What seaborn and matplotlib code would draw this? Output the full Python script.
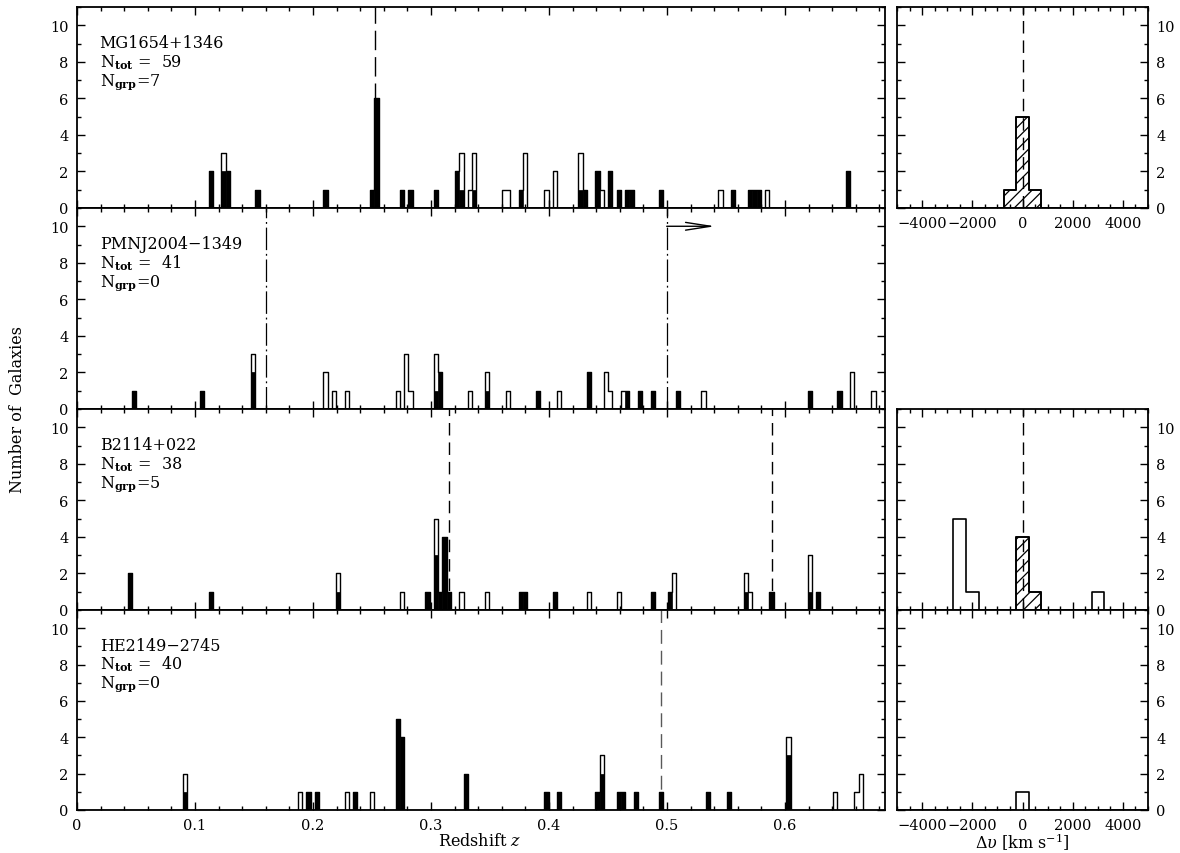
import numpy as np
import pandas as pd
import seaborn as sns
import matplotlib
matplotlib.use("Agg")
import matplotlib.pyplot as plt
from matplotlib.ticker import MultipleLocator, FuncFormatter

sns.set_theme(style="ticks")
plt.rcParams["font.family"] = ["DejaVu Serif", "DejaVu Sans"]
plt.rcParams["mathtext.fontset"] = "dejavuserif"
plt.rcParams["hatch.linewidth"] = 0.9

# ---------------- data ----------------
FIELDS = ["MG1654+1346", "PMNJ2004\u22121349", "B2114+022", "HE2149\u22122745"]
N_TOT = [59, 41, 38, 40]
N_GRP = [7, 0, 5, 0]

MG_Z = [0.1134, 0.1242, 0.1278, 0.1530, 0.2106, 0.2502, 0.2538, 0.2754, 0.2826, 0.3042,
        0.3222, 0.3258, 0.3330, 0.3366, 0.3618, 0.3654, 0.3762, 0.3798, 0.3978, 0.4050,
        0.4266, 0.4302, 0.4410, 0.4446, 0.4518, 0.4590, 0.4662, 0.4698, 0.4950, 0.5454,
        0.5562, 0.5706, 0.5742, 0.5778, 0.5850, 0.6534]
MG_ALL = [2, 3, 2, 1, 1, 1, 6, 1, 1, 1, 2, 3, 1, 3, 1, 1, 1, 3, 1, 2,
          3, 1, 2, 1, 2, 1, 1, 1, 1, 1, 1, 1, 1, 1, 1, 2]
MG_FILLED = [2, 2, 2, 1, 1, 1, 6, 1, 1, 1, 2, 1, 0, 1, 0, 0, 1, 0, 0, 0,
             1, 1, 2, 0, 2, 1, 1, 1, 1, 0, 1, 1, 1, 1, 0, 2]

PM_Z = [0.0486, 0.1062, 0.1494, 0.2106, 0.2178, 0.2286, 0.2718, 0.2790, 0.2826, 0.3042,
        0.3078, 0.3330, 0.3474, 0.3654, 0.3906, 0.4086, 0.4338, 0.4482, 0.4518, 0.4626,
        0.4662, 0.4770, 0.4878, 0.5094, 0.5310, 0.6210, 0.6462, 0.6570, 0.6750]
PM_ALL = [1, 1, 3, 2, 1, 1, 1, 3, 1, 3, 2, 1, 2, 1, 1, 1, 2, 2, 1, 1,
          1, 1, 1, 1, 1, 1, 1, 2, 1]
PM_FILLED = [1, 1, 2, 0, 0, 0, 0, 0, 0, 1, 2, 0, 1, 0, 1, 0, 2, 0, 0, 0,
             1, 1, 1, 1, 0, 1, 1, 0, 0]

B2_Z = [0.0450, 0.1134, 0.2214, 0.2754, 0.2970, 0.3042, 0.3078, 0.3114, 0.3150, 0.3258,
        0.3474, 0.3762, 0.3798, 0.4050, 0.4338, 0.4590, 0.4878, 0.5022, 0.5058, 0.5670,
        0.5706, 0.5886, 0.6210, 0.6282]
B2_ALL = [2, 1, 2, 1, 1, 5, 1, 4, 1, 1, 1, 1, 1, 1, 1, 1, 1, 1, 2, 2,
          1, 1, 3, 1]
B2_FILLED = [2, 1, 1, 0, 1, 3, 1, 4, 1, 0, 0, 1, 1, 1, 0, 0, 1, 1, 0, 1,
             0, 1, 1, 1]

HE_Z = [0.0918, 0.1890, 0.1962, 0.2034, 0.2286, 0.2358, 0.2502, 0.2718, 0.2754, 0.3294,
        0.3978, 0.4086, 0.4410, 0.4446, 0.4590, 0.4626, 0.4734, 0.4950, 0.5346, 0.5526,
        0.6030, 0.6426, 0.6606, 0.6642]
HE_ALL = [2, 1, 1, 1, 1, 1, 1, 5, 4, 2, 1, 1, 1, 3, 1, 1, 1, 1, 1, 1,
          4, 1, 1, 2]
HE_FILLED = [1, 0, 1, 1, 0, 1, 0, 5, 4, 2, 1, 1, 1, 2, 1, 1, 1, 1, 1, 1,
             3, 0, 0, 0]

# marked redshifts
MG_DASHED = [0.2528]
PM_DASHDOT = [0.1602, 0.4997]
PM_ARROW = (0.4997, 0.5407, 10)
B2_DASHED = [0.3153, 0.5887]
HE_DASHED = [0.4946]

# velocity distributions (km/s)
V_MG = [-500, 0, 500]
V_MG_ALL = [1, 5, 1]
V_MG_GRP = [1, 5, 1]
V_B2 = [-2500, -2000, 0, 500, 3000]
V_B2_ALL = [5, 1, 4, 1, 1]
V_B2_GRP = [0, 0, 4, 1, 0]
V_HE = [0]
V_HE_ALL = [1]
V_HE_GRP = [0]

Z_BIN = 0.0036
V_BIN = 500

# ---------------- figure ----------------
W, H = 1180, 854
fig = plt.figure(figsize=(W / 100, H / 100), dpi=100)

tops = [8, 209, 410, 611]
bots = [209, 410, 611, 811]


def rect(x0, x1, t, b):
    return [x0 / W, 1 - b / H, (x1 - x0) / W, (b - t) / H]


def style_axes(ax):
    for s in ax.spines.values():
        s.set_linewidth(1.3)
        s.set_color("black")
    ax.tick_params(which="both", direction="in", top=True, right=True,
                   color="black", labelsize=10.5, labelcolor="black")
    ax.tick_params(which="major", length=6, width=1, pad=6)
    ax.tick_params(which="minor", length=3, width=1)
    ax.set_xlabel("")
    ax.set_ylabel("")


def zhist(ax, z, tot, filled):
    df = pd.DataFrame({"z": z, "tot": tot, "filled": filled})
    sns.histplot(data=df, x="z", weights="filled", binwidth=Z_BIN, binrange=(0, 0.72),
                 element="bars", fill=True, color="black", alpha=1,
                 edgecolor="black", linewidth=0.5, ax=ax)
    sns.histplot(data=df, x="z", weights="tot", binwidth=Z_BIN, binrange=(0, 0.72),
                 element="step", fill=False, color="black", linewidth=1.0, ax=ax)


def vhist(ax, v, tot, grp):
    df = pd.DataFrame({"v": v, "tot": tot, "grp": grp})
    if sum(grp) > 0:
        sns.histplot(data=df, x="v", weights="grp", binwidth=V_BIN, binrange=(-5250, 5250),
                     element="step", fill=True, color="black", facecolor="none",
                     edgecolor="black", hatch="///", alpha=1, linewidth=1.2, ax=ax)
    sns.histplot(data=df, x="v", weights="tot", binwidth=V_BIN, binrange=(-5250, 5250),
                 element="step", fill=False, color="black", linewidth=1.2, ax=ax)


zsets = [(MG_Z, MG_ALL, MG_FILLED), (PM_Z, PM_ALL, PM_FILLED),
         (B2_Z, B2_ALL, B2_FILLED), (HE_Z, HE_ALL, HE_FILLED)]

left_axes = []
for i in range(4):
    ax = fig.add_axes(rect(77, 885, tops[i], bots[i]))
    zhist(ax, *zsets[i])
    ax.set_xlim(0, 0.6847)
    ax.set_ylim(0, 11)
    ax.xaxis.set_major_locator(MultipleLocator(0.1))
    ax.xaxis.set_minor_locator(MultipleLocator(0.02))
    ax.yaxis.set_major_locator(MultipleLocator(2))
    ax.yaxis.set_minor_locator(MultipleLocator(1))
    style_axes(ax)
    if i < 3:
        ax.tick_params(labelbottom=False)
    else:
        ax.xaxis.set_major_formatter(FuncFormatter(lambda v, p: "0" if abs(v) < 1e-9 else f"{v:.1f}"))
    ax.text(0.028, 0.801, FIELDS[i], transform=ax.transAxes, fontsize=11.5, color="black")
    ax.text(0.028, 0.706, r"N$_{\mathbf{tot}}$ =  " + str(N_TOT[i]), transform=ax.transAxes,
            fontsize=11.5, color="black")
    ax.text(0.028, 0.617, r"N$_{\mathbf{grp}}$=" + str(N_GRP[i]), transform=ax.transAxes,
            fontsize=11.5, color="black")
    left_axes.append(ax)

for zc in MG_DASHED:
    left_axes[0].axvline(zc, color="black", lw=1, dashes=(14, 5), zorder=0)
for zc in PM_DASHDOT:
    left_axes[1].axvline(zc, color="black", lw=0.9, dashes=(18, 3, 1.5, 3), zorder=0)
left_axes[1].annotate("", xy=(PM_ARROW[1], PM_ARROW[2]), xytext=(PM_ARROW[0], PM_ARROW[2]),
                      arrowprops=dict(arrowstyle="->,head_length=0.9,head_width=0.14",
                                      lw=1, color="black", mutation_scale=20,
                                      shrinkA=0, shrinkB=0))
for zc in B2_DASHED:
    left_axes[2].axvline(zc, color="black", lw=1, dashes=(9, 5), zorder=0)
for zc in HE_DASHED:
    left_axes[3].axvline(zc, color="0.35", lw=1, dashes=(10, 5), zorder=0)

# right-hand velocity panels
vsets = {0: (V_MG, V_MG_ALL, V_MG_GRP, True), 2: (V_B2, V_B2_ALL, V_B2_GRP, True),
         3: (V_HE, V_HE_ALL, V_HE_GRP, False)}
for i, (v, tot, grp, zero_line) in vsets.items():
    ax = fig.add_axes(rect(897, 1148, tops[i], bots[i]))
    if zero_line:
        ax.axvline(0, color="black", lw=1, dashes=(9, 5), zorder=0)
    vhist(ax, v, tot, grp)
    ax.set_xlim(-5000, 5000)
    ax.set_ylim(0, 11)
    ax.xaxis.set_major_locator(MultipleLocator(2000))
    ax.xaxis.set_minor_locator(MultipleLocator(500))
    ax.yaxis.set_major_locator(MultipleLocator(2))
    ax.yaxis.set_minor_locator(MultipleLocator(1))
    style_axes(ax)
    ax.tick_params(axis="y", labelleft=False, labelright=True)
    if i == 2:
        ax.tick_params(labelbottom=False)

fig.text(18 / W, 1 - 410 / H, "Number of  Galaxies", rotation=90, ha="center", va="center",
         fontsize=11.5, color="black")
fig.text(480 / W, 1 - 842 / H, r"Redshift $z$", ha="center", va="center",
         fontsize=11.5, color="black")
fig.text(1022 / W, 1 - 842 / H, r"$\Delta\upsilon$ [km s$^{-1}$]", ha="center", va="center",
         fontsize=11.5, color="black")

fig.savefig("out.png", dpi=100, facecolor="white")
